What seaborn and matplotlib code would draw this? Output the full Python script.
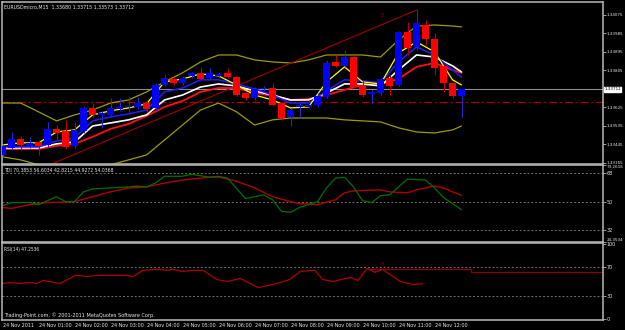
import matplotlib
matplotlib.use("Agg")
import matplotlib.pyplot as plt
import matplotlib.text as mtext
import seaborn as sns
from matplotlib import font_manager
from matplotlib.font_manager import FontProperties

# ---------------- data ----------------
bars = list(range(52))
opens = [1.33393, 1.33427, 1.33471, 1.33437, 1.33456, 1.33442, 1.33520, 1.33510, 1.33437, 1.33510,
         1.33622, 1.33588, 1.33588, 1.33617, 1.33627, 1.33627, 1.33646, 1.33622, 1.33734, 1.33763,
         1.33744, 1.33778, 1.33793, 1.33768, 1.33778, 1.33793, 1.33773, 1.33695, 1.33671, 1.33715,
         1.33719, 1.33646, 1.33578, 1.33627, 1.33627, 1.33637, 1.33676, 1.33846, 1.33827, 1.33870,
         1.33734, 1.33690, 1.33695, 1.33768, 1.33734, 1.33992, 1.33919, 1.34026, 1.33958, 1.33827,
         1.33744, 1.33680]
highs = [1.33447, 1.33505, 1.33486, 1.33481, 1.33466, 1.33554, 1.33539, 1.33564, 1.33554, 1.33632,
         1.33646, 1.33608, 1.33671, 1.33671, 1.33676, 1.33676, 1.33661, 1.33744, 1.33783, 1.33773,
         1.33778, 1.33797, 1.33822, 1.33817, 1.33797, 1.33817, 1.33778, 1.33700, 1.33724, 1.33729,
         1.33744, 1.33651, 1.33622, 1.33646, 1.33642, 1.33695, 1.33856, 1.33880, 1.33905, 1.33875,
         1.33759, 1.33710, 1.33768, 1.33783, 1.33997, 1.34041, 1.34104, 1.34051, 1.33987, 1.33836,
         1.33749, 1.33715]
lows = [1.33384, 1.33418, 1.33418, 1.33427, 1.33393, 1.33432, 1.33466, 1.33422, 1.33427, 1.33500,
        1.33578, 1.33525, 1.33578, 1.33608, 1.33598, 1.33617, 1.33603, 1.33612, 1.33729, 1.33734,
        1.33734, 1.33768, 1.33759, 1.33763, 1.33768, 1.33768, 1.33681, 1.33661, 1.33661, 1.33705,
        1.33632, 1.33564, 1.33534, 1.33573, 1.33622, 1.33627, 1.33671, 1.33822, 1.33822, 1.33719,
        1.33676, 1.33646, 1.33685, 1.33685, 1.33729, 1.33880, 1.33905, 1.33929, 1.33783, 1.33700,
        1.33671, 1.33573]
closes = [1.33437, 1.33471, 1.33442, 1.33452, 1.33437, 1.33520, 1.33500, 1.33432, 1.33515, 1.33622,
          1.33588, 1.33598, 1.33622, 1.33627, 1.33632, 1.33646, 1.33617, 1.33734, 1.33768, 1.33744,
          1.33768, 1.33793, 1.33763, 1.33793, 1.33788, 1.33773, 1.33685, 1.33671, 1.33715, 1.33719,
          1.33637, 1.33573, 1.33612, 1.33637, 1.33637, 1.33681, 1.33841, 1.33827, 1.33870, 1.33724,
          1.33685, 1.33700, 1.33763, 1.33729, 1.33992, 1.33914, 1.34036, 1.33958, 1.33817, 1.33744,
          1.33681, 1.33712]

ma_bars = [0, 2, 4, 6, 8, 10, 12, 14, 16, 18, 20, 22, 24, 26, 28, 30, 32, 34, 36, 38, 40, 42, 44, 46, 48, 50, 51]
ma_yellow = [1.33442, 1.33452, 1.33452, 1.33505, 1.33515, 1.33588, 1.33608, 1.33622, 1.33642, 1.33749,
             1.33763, 1.33788, 1.33778, 1.33734, 1.33685, 1.33661, 1.33622, 1.33627, 1.33749, 1.33822,
             1.33749, 1.33739, 1.33890, 1.33944, 1.33895, 1.33759, 1.33734]
ma_blue = [1.33432, 1.33432, 1.33432, 1.33461, 1.33476, 1.33559, 1.33578, 1.33593, 1.33612, 1.33700,
           1.33719, 1.33759, 1.33759, 1.33739, 1.33715, 1.33685, 1.33646, 1.33646, 1.33705, 1.33759,
           1.33754, 1.33744, 1.33846, 1.33919, 1.33880, 1.33807, 1.33773]
ma_white = [1.33427, 1.33427, 1.33427, 1.33447, 1.33456, 1.33534, 1.33549, 1.33564, 1.33588, 1.33661,
            1.33685, 1.33724, 1.33739, 1.33729, 1.33705, 1.33685, 1.33661, 1.33661, 1.33695, 1.33739,
            1.33739, 1.33729, 1.33807, 1.33880, 1.33870, 1.33827, 1.33797]
ma_red = [1.33422, 1.33422, 1.33422, 1.33437, 1.33447, 1.33481, 1.33520, 1.33544, 1.33583, 1.33627,
          1.33656, 1.33700, 1.33719, 1.33719, 1.33695, 1.33681, 1.33661, 1.33666, 1.33685, 1.33710,
          1.33734, 1.33739, 1.33763, 1.33822, 1.33841, 1.33807, 1.33793]
band_upper = [1.33646, 1.33646, 1.33603, 1.33559, 1.33588, 1.33612, 1.33646, 1.33661, 1.33700, 1.33749,
              1.33793, 1.33846, 1.33880, 1.33880, 1.33856, 1.33846, 1.33841, 1.33856, 1.33880, 1.33880,
              1.33880, 1.33870, 1.33953, 1.34021, 1.34026, 1.34021, 1.34017]
band_lower = [1.33384, 1.33369, 1.33345, 1.33330, 1.33330, 1.33330, 1.33345, 1.33369, 1.33393, 1.33466,
              1.33539, 1.33612, 1.33646, 1.33603, 1.33539, 1.33564, 1.33573, 1.33573, 1.33573, 1.33564,
              1.33559, 1.33554, 1.33525, 1.33505, 1.33500, 1.33515, 1.33534]

trend_x = [5.5, 46.0]
trend_y = [1.33350, 1.34099]
last_price = 1.33712
level_price = 1.33651
price_ticks = [1.34075, 1.33985, 1.33895, 1.33805, 1.33625, 1.33535, 1.33445, 1.33355]

tdi_green_x = [0, 1, 3, 4, 6, 7, 8, 9, 10, 14, 15, 16, 17, 18, 20, 21, 23, 24, 25, 27, 29, 30, 31, 32,
               33, 35, 36, 37, 38, 39, 40, 41, 42, 43, 45, 47, 48, 49, 51]
tdi_green = [47.5, 49.4, 49.4, 48.1, 53.1, 50.0, 50.0, 56.2, 58.1, 59.3, 59.9, 59.3, 61.8, 66.1, 66.1,
             67.4, 65.5, 66.1, 64.9, 51.9, 54.3, 51.2, 43.8, 43.2, 46.3, 50.0, 58.7, 64.9, 65.5, 59.3,
             50.6, 49.4, 53.7, 54.3, 64.3, 63.7, 58.7, 52.5, 44.9272]
tdi_red_x = [0, 1, 3, 5, 8, 10, 12, 14, 16, 18, 20, 23, 24, 26, 28, 30, 32, 33, 35, 37, 38, 39, 42,
             43, 45, 46, 48, 49, 50, 51]
tdi_red = [46.3, 45.7, 48.1, 49.4, 50.0, 53.1, 56.2, 58.7, 59.3, 61.8, 63.7, 65.5, 65.5, 63.0, 58.7,
           53.1, 50.0, 48.8, 48.1, 51.2, 55.6, 56.8, 57.5, 56.2, 55.6, 57.5, 59.9, 58.7, 56.2, 54.0368]
tdi_levels = [68, 50, 32]
tdi_min, tdi_max = 24.3534, 73.2616

rsi_x = [0, 0.8, 1.9, 3.1, 3.8, 4.5, 6.4, 8.1, 9.4, 10.8, 13.8, 14.5, 15.6, 17.2, 18.3, 18.9, 20.0,
         21.2, 22.3, 23.8, 25.0, 26.4, 28.4, 30.5, 31.9, 33.1, 34.7, 35.6, 36.7, 38.6, 39.5, 40.5,
         41.4, 42.2, 44.2, 45.6, 46.7]
rsi = [47.3, 48.6, 47.3, 48.6, 47.3, 51.4, 47.3, 58.2, 56.8, 58.2, 58.2, 56.8, 65.0, 66.3, 65.0, 66.3,
       63.6, 65.0, 65.0, 52.7, 50.0, 54.1, 41.8, 47.3, 52.7, 63.6, 65.0, 52.7, 50.0, 55.4, 51.4, 67.7,
       62.2, 66.3, 50.0, 45.9, 47.2536]
rsi_flat_x = [40.6, 52.0, 52.0, 66.8]
rsi_flat = [66.3, 66.3, 62.7, 62.7]
rsi_levels = [70, 30]

time_ticks = [0, 4, 8, 12, 16, 20, 24, 28, 32, 36, 40, 44, 48]
time_labels = ["24 Nov 2011", "24 Nov 01:00", "24 Nov 02:00", "24 Nov 03:00", "24 Nov 04:00",
               "24 Nov 05:00", "24 Nov 06:00", "24 Nov 07:00", "24 Nov 08:00", "24 Nov 09:00",
               "24 Nov 10:00", "24 Nov 11:00", "24 Nov 12:00"]

# ---------------- font choice ----------------
sns.set_style("dark")
FONT_PATH = None
prefs = ["liberationsansnarrow-regular", "dejavusanscondensed.ttf", "robotocondensed-regular",
         "opensans_condensed", "notosans-condensed", "condensed", "narrow"]
files = [f.fname for f in font_manager.fontManager.ttflist]
for key in prefs:
    for fn in files:
        low = fn.lower()
        if key in low and "mono" not in low and "serif" not in low and "bold" not in low \
                and "italic" not in low and "oblique" not in low and "light" not in low:
            FONT_PATH = fn
            break
    if FONT_PATH:
        break
plt.rcParams["font.family"] = ["Liberation Sans", "DejaVu Sans"]

BG = "black"
FRAME = "#b8b8b8"
TXT = "#e8e8e8"
W, H = 625, 330
FS = 5.0

fig = plt.figure(figsize=(6.25, 3.3), dpi=100, facecolor=BG)


def px_axes(x0, y0, x1, y1):
    return fig.add_axes([x0 / W, 1 - y1 / H, (x1 - x0) / W, (y1 - y0) / H])


ax1 = px_axes(2, 2, 603, 164)
ax2 = px_axes(2, 165, 603, 242)
ax3 = px_axes(2, 243, 603, 320)
XL = (-0.06, 66.72)
for ax in (ax1, ax2, ax3):
    ax.set_facecolor(BG)
    ax.set_xlim(*XL)
    ax.grid(False)
    for s in ax.spines.values():
        s.set_color(FRAME)
        s.set_linewidth(1.1)
    ax.yaxis.tick_right()
    ax.tick_params(axis="y", direction="out", length=2, width=0.6, color=FRAME,
                   labelcolor=TXT, labelsize=FS, pad=0.6)
    ax.set_xlabel("")
    ax.set_ylabel("")

# ---------------- main price panel ----------------
ax1.set_ylim(1.33349, 1.34138)
ax1.axhline(last_price, color="#8c8c8c", lw=0.8, zorder=1)
ax1.axhline(level_price, color="#b00000", lw=0.9, ls=(0, (6, 2.5, 1.5, 2.5)), zorder=1)

sns.lineplot(x=ma_bars, y=band_upper, ax=ax1, color="#9c9c00", lw=0.9, estimator=None, legend=False)
sns.lineplot(x=ma_bars, y=band_lower, ax=ax1, color="#9c9c00", lw=0.9, estimator=None, legend=False)
sns.lineplot(x=trend_x, y=trend_y, ax=ax1, color="#a00000", lw=0.8, estimator=None, legend=False)
sns.lineplot(x=ma_bars, y=ma_red, ax=ax1, color="#ff1010", lw=1.3, estimator=None, legend=False)
sns.lineplot(x=ma_bars, y=ma_white, ax=ax1, color="#ffffff", lw=1.2, estimator=None, legend=False)
sns.lineplot(x=ma_bars, y=ma_blue, ax=ax1, color="#1e1eff", lw=1.1, estimator=None, legend=False)
sns.lineplot(x=ma_bars, y=ma_yellow, ax=ax1, color="#ffff00", lw=0.9, estimator=None, legend=False)

for i, o, h, l, c in zip(bars, opens, highs, lows, closes):
    up = c >= o
    ax1.vlines(i, l, h, color="#2828c8" if up else "#c00000", lw=0.8, zorder=4)
    ax1.bar(i, max(abs(c - o), 0.00002), bottom=min(o, c), width=0.7,
            color="#0000ff" if up else "#ff0000", lw=0, zorder=5)

ax1.set_yticks(price_ticks)
ax1.set_yticklabels([f"{v:.5f}" for v in price_ticks])
ax1.set_xticks([])
price_box = ax1.text(1.002, last_price, "1.33712", transform=ax1.get_yaxis_transform(), ha="left",
                     va="center", fontsize=FS, color="black", clip_on=False, zorder=10,
                     bbox=dict(boxstyle="square,pad=0.12", fc="white", ec="white"))
ax1.text(42.2, 1.34070, "8", color="#a00000", fontsize=FS + 0.5, ha="center", va="center")

# ---------------- TDI panel ----------------
ax2.set_ylim(tdi_min, tdi_max)
for lv in tdi_levels:
    ax2.axhline(lv, color="#707070", lw=0.7, ls=(0, (2, 2)), zorder=1)
sns.lineplot(x=tdi_red_x, y=tdi_red, ax=ax2, color="#b00000", lw=1.0, estimator=None, legend=False)
sns.lineplot(x=tdi_green_x, y=tdi_green, ax=ax2, color="#007000", lw=0.9, estimator=None, legend=False)
ax2.set_yticks([tdi_min, 32, 50, 68, tdi_max])
ax2.set_yticklabels([f"{tdi_min:.4f}", "32", "50", "68", f"{tdi_max:.4f}"])
tl = ax2.get_yticklabels()
tl[0].set_va("bottom")
tl[-1].set_va("top")
ax2.set_xticks([])

# ---------------- RSI panel ----------------
ax3.set_ylim(-1.7, 101.7)
for lv in rsi_levels:
    ax3.axhline(lv, color="#707070", lw=0.7, ls=(0, (2, 2)), zorder=1)
sns.lineplot(x=rsi_flat_x, y=rsi_flat, ax=ax3, color="#900000", lw=0.9, estimator=None, sort=False, legend=False)
sns.lineplot(x=rsi_x, y=rsi, ax=ax3, color="#b00000", lw=0.9, estimator=None, legend=False)
ax3.set_yticks([0, 30, 70, 100])
ax3.set_yticklabels(["0", "30", "70", "100"])
ax3.text(42.2, 72.5, "8", color="#a00000", fontsize=FS + 0.5, ha="center", va="center")

ax3.set_xticks(time_ticks)
ax3.set_xticklabels(time_labels)
ax3.tick_params(axis="x", direction="out", length=2, width=0.6, color=FRAME, labelcolor=TXT,
                labelsize=FS, pad=0.5)
for lab in ax3.get_xticklabels():
    lab.set_ha("left")

# ---------------- texts ----------------
t_top = fig.text(4 / W, 1 - 7 / H, "EURUSDmicro,M15  1.33680 1.33715 1.33573 1.33712", color=TXT,
                 fontsize=FS, ha="left", va="center")
t_tdi = fig.text(4 / W, 1 - 170 / H, "TDI 70.3853 56.6034 42.8215 44.9272 54.0368", color=TXT,
                 fontsize=FS, ha="left", va="center")
t_rsi = fig.text(4 / W, 1 - 249 / H, "RSI(14) 47.2536", color=TXT, fontsize=FS, ha="left", va="center")
t_copy = fig.text(4 / W, 1 - 315 / H, "Trading-Point.com, \u00a9 2001-2011 MetaQuotes Software Corp.",
                  color=TXT, fontsize=FS, ha="left", va="center")

# ---------------- apply narrow font and fit sizes to measured widths ----------------
def set_font(t, size):
    if FONT_PATH:
        t.set_fontproperties(FontProperties(fname=FONT_PATH, size=size))
    else:
        t.set_fontsize(size)


all_texts = [t for t in fig.findobj(mtext.Text) if t.get_text()]
for t in all_texts:
    set_font(t, FS)
renderer = fig.canvas.get_renderer()


def fitted(t, target):
    w = t.get_window_extent(renderer).width
    return FS * target / w if w > 0 else FS


xlabs = ax3.get_xticklabels()
ylab0 = ax1.get_yticklabels()[0]
size_time = fitted(xlabs[1], 33.0)
size_axis = fitted(ylab0, 16.5)
size_top = fitted(t_top, 130.0)
size_tdi = fitted(t_tdi, 111.0)
size_rsi = fitted(t_rsi, 36.0)
size_copy = fitted(t_copy, 154.0)
for t in all_texts:
    set_font(t, size_time)
for ax in (ax1, ax2, ax3):
    for t in ax.get_yticklabels():
        set_font(t, size_axis if len(t.get_text()) > 4 else size_time)
set_font(price_box, size_axis)
set_font(t_top, size_top)
set_font(t_tdi, size_tdi)
set_font(t_rsi, size_rsi)
set_font(t_copy, size_copy)

fig.savefig("out.png", dpi=100, facecolor=BG)
